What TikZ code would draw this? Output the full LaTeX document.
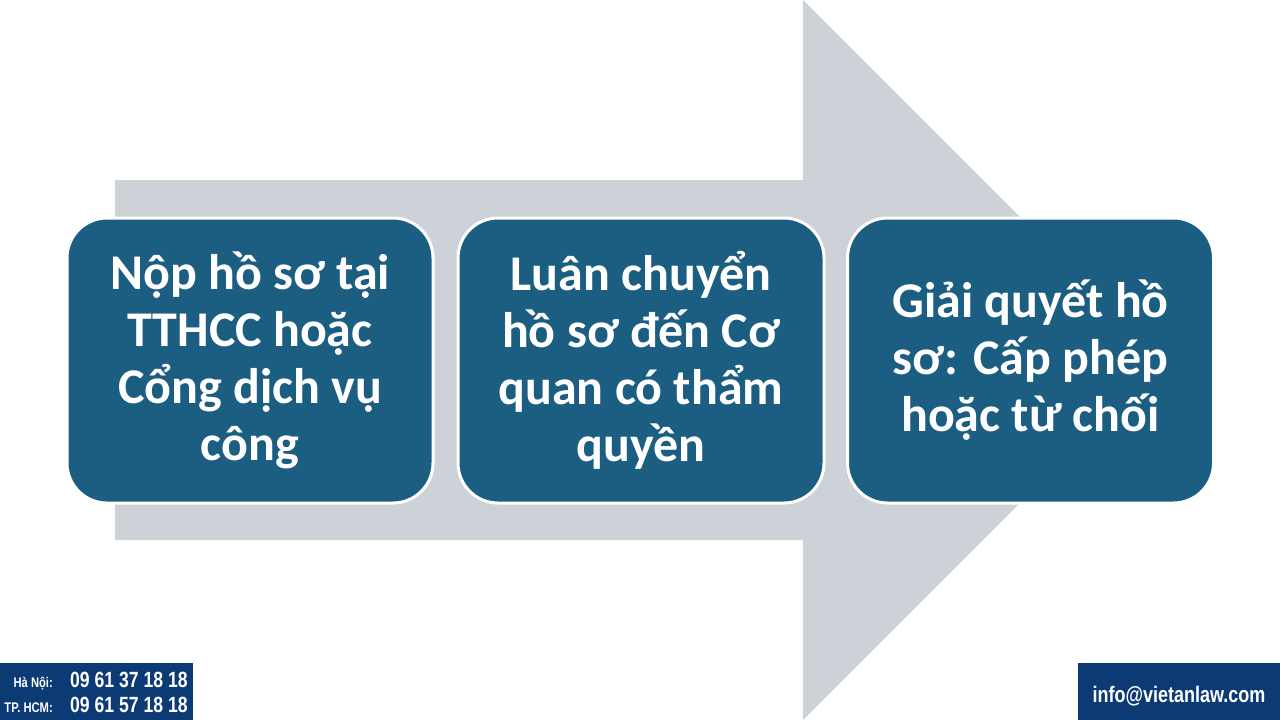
\documentclass[tikz,border=0pt]{standalone}
\usepackage{fontspec}
\setmainfont{Carlito}
\newfontfamily\condfont[FakeStretch=0.8]{Liberation Sans}
\definecolor{arrowgrey}{HTML}{CDD2D9}
\definecolor{boxblue}{HTML}{1B5E82}
\definecolor{navyband}{HTML}{0B3A75}
\begin{document}
\begin{tikzpicture}[x=1pt,y=-1pt,
  stepbox/.style={draw=white, line width=3pt, fill=boxblue, rounded corners=40pt,
    minimum width=366pt, minimum height=285pt, text=white, inner sep=0pt,
    font=\fontsize{50}{57}\selectfont\bfseries, align=center},
  band/.style={fill=navyband},
  smalllabel/.style={text=white, inner sep=0pt, font=\condfont\bfseries\fontsize{14}{14}\selectfont},
  phone/.style={text=white, inner sep=0pt, font=\condfont\bfseries\fontsize{22}{22}\selectfont}
]
\useasboundingbox (0,0) rectangle (1280,720);
\fill[white] (0,0) rectangle (1280,720);
% big background arrow
\fill[arrowgrey] (115,180) -- (803,180) -- (803,0) -- (1163,360) -- (803,720)
  -- (803,540) -- (115,540) -- cycle;
% steps
\node[stepbox] (s1) at (250,360.5) {Nộp hồ sơ tại\\TTHCC hoặc\\Cổng dịch vụ\\công};
\node[stepbox] (s2) at (641,360.5) {Luân chuyển\\hồ sơ đến Cơ\\quan có thẩm\\quyền};
\node[stepbox] (s3) at (1030.5,360.5) {Giải quyết hồ\\sơ: Cấp phép\\hoặc từ chối};
% contact bands
\fill[band] (0,663) rectangle (193,720);
\node[smalllabel, anchor=base east] (hnl) at (53,687) {Hà Nội:};
\node[phone, anchor=base west] (hnp) at (70,687) {09 61 37 18 18};
\node[smalllabel, anchor=base east] (hcl) at (53,712) {TP. HCM:};
\node[phone, anchor=base west] (hcp) at (70,712) {09 61 57 18 18};
\fill[band] (1078,663) rectangle (1280,720);
\node[phone, anchor=base, font=\condfont\bfseries\fontsize{22.5}{22.5}\selectfont] (mail) at (1179,702) {info@vietanlaw.com};
\end{tikzpicture}
\end{document}
